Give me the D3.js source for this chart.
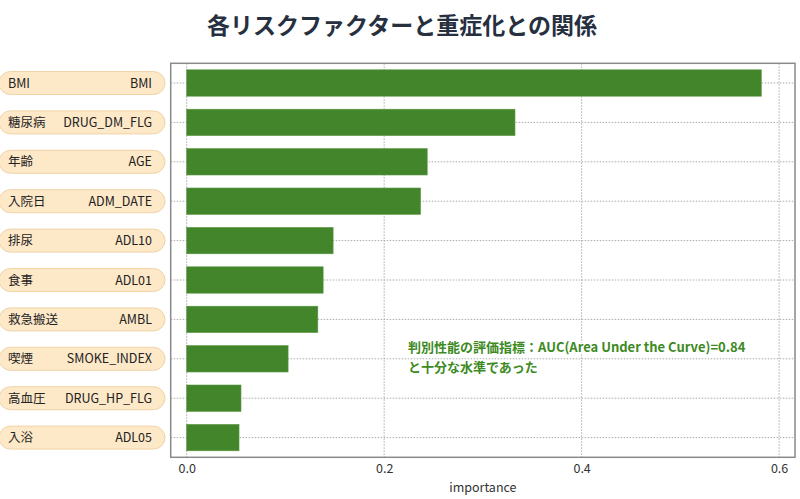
<!DOCTYPE html>
<html><head><meta charset="utf-8">
<script src="https://cdn.jsdelivr.net/npm/d3@7"></script>
<style>
body{margin:0;background:#fff;}
svg{display:block;font-family:"Noto Sans CJK JP","Noto Sans",sans-serif;}
</style></head>
<body><svg id="c" width="800" height="499"></svg>
<script>
const featuresJa = ["BMI","糖尿病","年齢","入院日","排尿","食事","救急搬送","喫煙","高血圧","入浴"];
const featuresEn = ["BMI","DRUG_DM_FLG","AGE","ADM_DATE","ADL10","ADL01","AMBL","SMOKE_INDEX","DRUG_HP_FLG","ADL05"];
const importance = [0.582,0.3325,0.2436,0.2369,0.1483,0.1382,0.1328,0.1027,0.0550,0.0530];
const xTicks = [0.0,0.2,0.4,0.6];
const title = "各リスクファクターと重症化との関係";
const xLabel = "importance";
const note = ["判別性能の評価指標：AUC(Area Under the Curve)=0.84","と十分な水準であった"];

const svg = d3.select("#c");
const L = 170.7, R = 795, T = 63.3, B = 457.3;
const x = d3.scaleLinear().domain([-0.0162, 0.6161]).range([L, R]);
const y = d3.scaleBand().domain(featuresEn).range([T, B]).paddingInner(0.33).paddingOuter(0.165);

// title
svg.append("text").attr("x",402).attr("y",34).attr("text-anchor","middle")
  .attr("font-size",23).attr("font-weight",700).attr("fill","#26303f").text(title);

// gridlines
const g = svg.append("g");
g.selectAll(".vg").data(xTicks).join("line")
  .attr("x1",d=>x(d)).attr("x2",d=>x(d)).attr("y1",T).attr("y2",B)
  .attr("stroke","#aaa").attr("stroke-width",1).attr("stroke-dasharray","1.5,1.5");
g.selectAll(".hg").data(featuresEn).join("line")
  .attr("x1",L).attr("x2",R).attr("y1",d=>y(d)+y.bandwidth()/2).attr("y2",d=>y(d)+y.bandwidth()/2)
  .attr("stroke","#aaa").attr("stroke-width",1).attr("stroke-dasharray","1.5,1.5");

// bars
svg.append("g").selectAll("rect").data(importance).join("rect")
  .attr("x",x(0)).attr("y",(d,i)=>y(featuresEn[i]))
  .attr("width",d=>x(d)-x(0)).attr("height",y.bandwidth())
  .attr("fill","#43852a").attr("stroke","#5c9a45").attr("stroke-width",0.6);

// frame
svg.append("rect").attr("x",L).attr("y",T).attr("width",R-L).attr("height",B-T)
  .attr("fill","none").attr("stroke","#8a8a8a").attr("stroke-width",1.5);

// x axis
const xa = svg.append("g").attr("transform",`translate(0,${B})`)
  .call(d3.axisBottom(x).tickValues(xTicks).tickFormat(d3.format(".1f")).tickSize(0).tickPadding(7));
xa.select(".domain").remove();
xa.selectAll("text").attr("font-size",12.5).attr("fill","#333").attr("font-family","\"Noto Sans CJK JP\",sans-serif");
svg.append("text").attr("x",x(0.3)).attr("y",492).attr("text-anchor","middle")
  .attr("font-size",12.5).attr("fill","#333").text(xLabel);

// y labels as pills
const lab = svg.append("g").selectAll("g").data(featuresEn).join("g")
  .attr("transform",d=>`translate(0,${y(d)+y.bandwidth()/2})`);
lab.append("rect").attr("x",-1).attr("y",-11.5).attr("width",166).attr("height",23).attr("rx",11.5)
  .attr("fill","#fde8c8").attr("stroke","#f0d3a6").attr("stroke-width",1);
lab.append("text").attr("x",8).attr("y",4.5).attr("font-size",12.5).attr("fill","#222")
  .text((d,i)=>featuresJa[i]);
lab.append("text").attr("x",152).attr("y",4.5).attr("text-anchor","end").attr("font-size",12.5).attr("fill","#222")
  .text(d=>d);

// annotation
const an = svg.append("g");
note.forEach((t,i)=>{
  an.append("text").attr("x",408).attr("y",352+i*20).attr("font-size",13).attr("font-weight",700)
    .attr("fill","none").attr("stroke","#fff").attr("stroke-width",3).attr("stroke-linejoin","round").text(t);
  an.append("text").attr("x",408).attr("y",352+i*20).attr("font-size",13).attr("font-weight",700)
    .attr("fill","#3d8a1f").text(t);
});
</script></body></html>
